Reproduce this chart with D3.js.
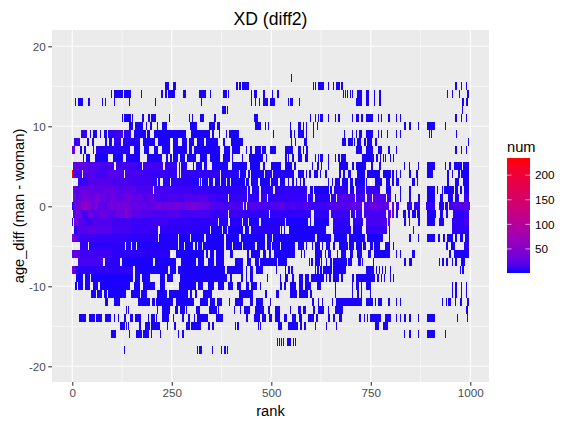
<!DOCTYPE html>
<html><head><meta charset="utf-8">
<script src="https://cdn.jsdelivr.net/npm/d3@7"></script>
<style>html,body{margin:0;background:#fff}svg{display:block;font-family:"Liberation Sans",Arial,sans-serif}</style>
</head><body><svg id="c" width="581" height="427"></svg>
<script>
const xTicks=[0,250,500,750,1000], xMinor=[125,375,625,875];
const yTicks=[-20,-10,0,10,20], yMinor=[-15,-5,5,15];
const legendTicks=[50,100,150,200];
const titleText="XD (diff2)", xLabel="rank", yLabel="age_diff (man - woman)", legendTitle="num";
const numDomain=[1,235];
// spans per age_diff: [rank start, rank end, num]
const p16=[[549,551]];
const p15=[[233,244],[253,260],[411,416],[418,424],[426,445],[604,607],[610,612],[617,632],[642,645],[655,657],[663,673],[675,679],[962,967],[977,979],[989,992]];
const p14=[[97,100],[105,128],[130,147],[172,175],[223,228],[233,237],[241,252],[254,258],[278,286],[318,337],[346,348],[379,388],[390,392],[449,451],[456,465],[480,485],[502,505],[515,520],[679,681],[684,686],[691,693],[698,700],[703,705],[715,728],[738,745],[758,760],[771,776],[941,944],[954,956],[972,974],[992,997]];
const p13=[[7,9],[14,26],[39,44],[75,78],[81,85],[105,107],[142,145],[208,210],[323,326],[449,451],[459,461],[469,471],[479,492],[497,509],[542,545],[547,555],[570,572],[713,728],[738,745],[758,760],[771,776],[979,984],[989,994]];
const p12=[[376,386],[389,391],[979,982]];
const p11=[[125,127],[130,147],[150,152],[175,180],[190,195],[198,210],[243,245],[293,296],[301,303],[321,331],[356,361],[456,466],[597,600],[610,612],[617,620],[622,630],[642,645],[660,662],[668,673],[703,705],[713,720],[725,730],[738,755],[768,771],[776,778],[793,798],[813,816],[823,826],[962,967],[977,979],[989,992]];
const p10=[[142,152],[157,178],[185,187],[195,200],[213,215],[225,238],[296,313],[343,358],[363,371],[459,474],[484,487],[492,494],[547,550],[567,575],[580,582],[587,590],[605,607],[615,617],[833,838],[846,851],[869,871],[891,911],[936,939]];
const p9=[[22,37,8],[45,47],[52,62],[70,72],[80,87],[90,110,6],[110,128,12],[130,147,6],[155,185],[188,195],[205,286,3],[298,346],[351,356],[368,371],[386,389],[394,419],[504,507],[547,552],[557,560],[567,582],[587,590],[605,607],[683,685],[703,705],[713,716],[720,728],[738,755],[768,771],[776,778],[791,793],[813,816],[823,826],[896,899],[901,904],[964,966]];
const p8=[[4,19,10],[37,42],[49,54],[82,87],[92,100],[105,122,6],[127,170,5],[178,208],[215,245],[253,265],[275,288],[293,305],[313,331],[336,366],[379,384],[399,429],[550,552],[560,562],[582,590],[678,688],[693,705],[708,710],[715,725],[733,738],[740,753],[760,765],[994,997]];
const p7=[[0,7,28],[19,24],[29,34],[52,54],[60,145,5],[155,170],[180,193],[205,215],[225,245],[253,287],[293,300],[305,371],[381,396],[401,421],[436,438],[446,451],[459,474],[477,487],[497,512],[534,555],[567,575],[580,582],[587,592],[713,728],[738,755],[768,778],[793,798],[813,816],[962,967],[977,979],[989,992]];
const p6=[[27,29],[34,44],[57,90],[103,128],[135,170],[187,225],[235,240],[245,250],[253,265],[270,283],[288,312],[321,338],[346,371],[379,396],[401,405],[426,430],[443,480],[487,489],[534,539],[542,544],[552,557],[567,577],[585,592],[610,612],[617,620],[622,630],[642,645],[660,662],[668,673],[675,688],[728,758],[763,768],[773,776],[781,783],[786,788],[798,800],[806,808]];
const p5=[[2,12,22],[12,40,26],[40,70,18],[70,105,14],[110,160,12],[160,175,7],[177,229,11],[232,262,7],[269,271,5],[273,287,5],[303,306],[311,326],[331,338],[351,391],[401,438],[446,472],[478,484],[499,524],[534,552],[557,562],[602,605],[615,620],[625,627],[642,645],[670,693],[703,708],[713,738],[750,756],[771,776],[833,836],[846,848],[869,871],[891,911],[936,939],[946,951],[959,979],[982,997]];
const p4=[[0,2,235],[2,25,12],[27,60,18],[60,90,11],[90,110,20],[110,130,16],[132,170,14],[170,200,10],[200,240,8],[240,262,7],[269,271,5],[273,371,7],[374,420,5],[422,436],[441,447],[450,482],[484,502,5],[505,557,4],[567,582],[587,590],[595,600],[607,617],[622,625],[635,640],[670,675],[680,685],[693,700],[715,735],[740,773],[781,801],[803,808],[813,816],[823,826],[846,851],[864,869],[891,906],[941,946],[954,956],[969,974],[977,997]];
const p3=[[15,40,8],[40,60,18],[60,100,19],[100,150,14],[150,200,11],[200,212,7],[216,220],[229,245,5],[248,300,6],[300,318,4],[321,323],[326,341],[343,353],[358,371],[374,386],[389,396],[399,434],[437,444],[449,467],[472,497],[499,518],[521,534],[542,544],[552,557],[562,565],[572,575],[580,585],[642,645],[652,655],[660,673],[678,693],[698,705],[710,735],[738,740],[761,778],[788,798],[803,808],[813,821],[853,861],[866,869],[941,946],[962,972],[982,997]];
const p2=[[2,6,28],[6,20,17],[20,50,27],[50,80,23],[80,110,27],[110,130,18],[130,160,21],[160,203,15],[205,240,12],[240,300,10],[300,345,8],[345,438,6],[441,446],[452,470,4],[475,505,5],[510,590,6],[597,605],[607,645],[648,652],[657,693,6],[698,708],[713,735,6],[738,773,8],[788,801],[823,826],[846,851],[891,911],[916,919],[929,931],[934,959],[962,969],[974,979],[984,997]];
const p1=[[3,9,38],[9,14,13],[14,25,28],[25,42,36],[42,60,30],[60,70,40],[70,85,30],[85,95,22],[95,110,31],[110,125,22],[125,140,28],[140,150,34],[150,165,22],[165,175,26],[175,190,18],[190,205,24],[205,220,15],[220,240,12],[240,262,16],[262,280,12],[280,300,18],[300,318,15],[318,340,19],[340,362,12],[362,390,8],[394,438,8],[441,470,6],[473,488,8],[491,505,6],[505,590,8],[593,606,5],[610,647,5],[650,662,6],[665,710,17],[713,735,10],[740,752,14],[755,765,22],[765,788,17],[791,801,9],[811,814],[823,826],[846,851],[869,874],[891,911],[924,931],[944,956],[962,972],[984,997,9]];
const p0=[[0,3,5],[3,8,22],[8,14,30],[14,23,36],[23,30,55],[30,36,62],[36,44,52],[44,50,40],[50,58,33],[58,65,44],[65,72,22],[72,80,27],[80,86,17],[86,95,31],[95,103,40],[103,112,30],[112,120,38],[120,130,33],[130,138,40],[138,149,30],[149,158,23],[158,168,30],[168,176,21],[176,185,26],[185,199,22],[199,210,27],[210,222,32],[222,233,27],[233,245,34],[245,258,28],[258,270,35],[270,282,30],[282,296,35],[296,306,40],[306,316,37],[316,330,30],[330,345,27],[345,352,18],[352,362,19],[362,372,13],[372,380,16],[380,392,10],[392,405,16],[405,430,14],[432,436,8],[439,462,19],[462,480,16],[480,500,13],[500,522,17],[522,535,22],[535,548,11],[548,562,16],[562,580,11],[580,598,17],[598,612,9],[612,640,10],[640,652,13],[652,670,19],[670,690,16],[690,705,22],[705,727,23],[734,748,17],[748,768,30],[768,785,22],[785,796,24],[804,808,30],[813,821,11],[841,853,6],[858,864,6],[864,874,6],[889,911,7],[921,934,5],[936,943,5],[946,965,13],[965,985,18],[985,999,22]];
const m1=[[3,8,17],[8,14,35],[14,25,28],[25,40,14],[40,50,30],[50,70,22],[70,90,30],[90,110,22],[110,132,31],[132,140,50],[140,150,33],[150,170,22],[170,200,20],[200,240,15],[240,270,18],[270,300,11],[300,345,13],[345,391,9],[394,440,9],[440,495,7],[497,600,7],[607,645,6],[650,698,10],[700,710,7],[713,727,10],[734,788,13],[793,801,19],[803,808,28],[813,818],[831,838],[844,848],[853,864],[866,874],[891,914],[924,931],[939,944],[957,985,6],[985,997,10]];
const m2=[[0,3,5],[5,15,38],[15,30,22],[30,50,11],[50,100,16],[100,150,11],[150,200,9],[200,240,11],[240,295,8],[295,365,6],[368,391,5],[396,426,5],[429,441,4],[444,470],[473,534,4],[537,591],[596,600],[607,645],[655,698,6],[705,730,7],[738,790,13],[794,798,22],[833,838],[846,848],[869,874],[891,911],[921,934],[955,985,7],[985,997,14]];
const m3=[[5,12,5],[12,40,19],[40,60,24],[60,100,20],[100,150,12],[150,215,9],[220,300,6],[300,345,5],[348,375],[379,388],[392,430],[434,445],[450,521,5],[524,527],[533,534],[545,637],[655,700,5],[706,728],[738,790,9],[795,797],[857,859],[954,997,6]];
const m4=[[0,6,38],[6,18,18],[18,60,10],[60,140,8],[140,215,6],[217,266,4],[268,295],[298,330],[335,380],[385,420],[425,484],[489,502],[504,610],[614,650],[657,690],[695,735],[740,780],[795,798],[846,851],[869,871],[891,911],[919,924],[932,936],[941,956],[962,966],[975,982],[986,997]];
const m5=[[19,39,8],[41,132,6],[135,148,4],[150,160],[162,265,4],[268,280],[283,304],[308,313],[316,326],[329,382],[385,400],[403,427],[430,460],[464,484],[488,500],[503,522],[525,560],[567,582],[587,590],[602,605],[610,622],[627,630],[637,647],[655,660],[670,693],[695,708],[713,728],[730,738],[748,756],[758,773],[786,798],[806,808],[939,944],[951,962],[984,997,6]];
const m6=[[0,19,24],[19,100,11],[100,185,6],[185,245,5],[260,330],[335,340],[345,355],[360,380],[395,405],[440,445],[450,472],[479,487],[494,499],[507,560],[575,577],[582,585],[610,627],[635,637],[642,650],[665,667],[675,688],[698,705],[715,728],[743,750],[758,798],[813,816],[823,826],[853,861],[946,951],[959,997]];
const m7=[[15,78,13],[82,120,6],[125,203],[207,260],[272,312],[316,330],[340,355],[360,380],[410,430],[440,450],[460,470],[472,515],[517,540],[595,597],[600,605],[610,622],[625,628],[637,640],[648,652],[655,689],[692,703],[718,725],[728,730],[756,758],[833,838],[846,853],[921,924],[929,934],[939,944],[954,956],[962,967],[977,987]];
const m8=[[0,7,34],[7,153,6],[158,240],[245,260],[265,383],[388,400],[402,430],[436,440],[447,455],[462,480],[512,515],[535,537],[542,547],[550,555],[610,612],[615,620],[622,627],[630,653],[655,688],[738,758],[763,765],[771,773],[779,781],[786,788],[798,800],[974,977],[979,984]];
const m9=[[9,28],[32,44],[48,153],[157,170],[174,195],[220,233],[237,254],[271,388],[396,400],[425,430],[436,440],[447,455],[489,492],[522,525],[534,542],[552,557],[570,580],[585,595],[600,632],[637,640],[645,650],[655,670],[675,680],[703,708],[713,760],[765,770],[776,778],[783,785],[798,800],[806,808]];
const m10=[[7,11],[14,28],[32,44],[53,65],[70,145],[155,170],[178,208],[220,233],[268,312],[316,329],[340,355],[365,380],[390,405],[415,425],[436,445],[450,465],[472,475],[522,527],[532,537],[547,562],[570,580],[585,600],[615,625],[660,662],[703,705],[713,720],[725,728],[738,750],[954,956],[962,967],[977,979],[989,992]];
const m11=[[47,59],[62,75],[80,86],[90,135],[148,170],[172,187],[213,237],[243,291],[296,300],[308,314],[329,350],[419,455],[484,488],[512,516],[517,520],[547,564],[570,592],[597,602],[660,662],[703,705],[715,720],[725,728],[748,750],[954,956],[962,967],[977,979],[989,992]];
const m12=[[82,89],[105,120],[165,195],[200,208],[210,254],[261,306],[321,342],[346,358],[363,376],[394,396],[409,430],[446,455],[461,478],[497,500],[602,607],[617,620],[627,630],[653,656],[663,728],[738,756],[761,763],[768,778],[793,798],[813,816],[823,826],[929,931],[939,941],[944,952],[962,964],[974,979],[992,997]];
const m13=[[135,137],[140,142],[213,215],[225,245],[258,265],[271,283],[286,288],[311,321],[343,363],[366,369],[406,409],[421,423],[431,446],[459,482],[492,497],[509,522],[547,550],[567,575],[580,587],[605,610],[617,632],[642,645],[660,680],[989,994]];
const m14=[[17,34],[42,57],[60,75],[82,97],[105,107],[115,117],[130,135],[145,153],[157,172],[190,192],[197,208],[210,212],[225,243],[253,256],[275,280],[291,296],[306,308],[313,341],[360,378],[436,441],[457,472],[476,487],[495,501],[510,522],[532,539],[552,562],[570,577],[592,607],[612,617],[642,647],[655,660],[670,678],[720,725],[733,736],[740,743],[748,776],[786,801],[813,816],[823,826],[833,838],[846,851],[869,871],[891,911],[967,969],[992,994]];
const m15=[[120,133],[135,137],[140,142],[168,172],[182,195],[197,220],[238,240],[255,260],[285,296],[298,323],[341,346],[351,356],[409,411],[414,419],[467,469],[472,474],[517,527],[542,567],[572,577],[582,587],[610,612],[637,640],[662,665],[760,770],[781,793]];
const m16=[[97,111],[142,145],[160,175],[178,193],[198,200],[220,223],[266,268],[276,280],[833,836],[846,851],[869,871],[891,911],[936,939]];
const m17=[[514,517],[519,522],[524,527],[530,532],[539,550],[555,557],[560,562]];
const m18=[[130,132],[313,316],[318,326],[351,353],[373,376],[381,386],[389,391]];
const rows=[[16,p16],[15,p15],[14,p14],[13,p13],[12,p12],[11,p11],[10,p10],[9,p9],[8,p8],[7,p7],[6,p6],[5,p5],[4,p4],[3,p3],[2,p2],[1,p1],[0,p0],[-1,m1],[-2,m2],[-3,m3],[-4,m4],[-5,m5],[-6,m6],[-7,m7],[-8,m8],[-9,m9],[-10,m10],[-11,m11],[-12,m12],[-13,m13],[-14,m14],[-15,m15],[-16,m16],[-17,m17],[-18,m18]];

const svg=d3.select("#c");
const panel={l:52,r:489,t:30,b:382};
const x=d3.scaleLinear().domain([0,1000]).range([72.3,470.3]);
const y=d3.scaleLinear().domain([0,10]).range([206.3,126.3]);
const color=d3.scaleLinear().domain(numDomain).range(["#0000ff","#ff0000"]).interpolate(d3.interpolateLab);

svg.append("rect").attr("x",panel.l).attr("y",panel.t).attr("width",panel.r-panel.l).attr("height",panel.b-panel.t).attr("fill","#ebebeb");
const grid=svg.append("g").attr("stroke","#fff").attr("fill","none");
xMinor.forEach(v=>grid.append("line").attr("x1",x(v)).attr("x2",x(v)).attr("y1",panel.t).attr("y2",panel.b).attr("stroke-width",0.55));
yMinor.forEach(v=>grid.append("line").attr("y1",y(v)).attr("y2",y(v)).attr("x1",panel.l).attr("x2",panel.r).attr("stroke-width",0.55));
xTicks.forEach(v=>grid.append("line").attr("x1",x(v)).attr("x2",x(v)).attr("y1",panel.t).attr("y2",panel.b).attr("stroke-width",1.07));
yTicks.forEach(v=>grid.append("line").attr("y1",y(v)).attr("y2",y(v)).attr("x1",panel.l).attr("x2",panel.r).attr("stroke-width",1.07));

const tiles=svg.append("g").attr("shape-rendering","crispEdges");
rows.forEach(([age,spans])=>{
  tiles.selectAll(null).data(spans).enter().append("rect")
    .attr("x",d=>Math.round(x(d[0])))
    .attr("width",d=>Math.max(1,Math.round(x(d[1]))-Math.round(x(d[0]))))
    .attr("y",Math.round(y(age+0.5)))
    .attr("height",Math.round(y(age-0.5))-Math.round(y(age+0.5)))
    .attr("fill",d=>color(d.length>2?d[2]:3));
});

const xAxis=svg.append("g").attr("transform",`translate(0,${panel.b})`).call(d3.axisBottom(x).tickValues(xTicks).tickFormat(d3.format("d")).tickSize(3.7).tickPadding(2.5));
const yAxis=svg.append("g").attr("transform",`translate(${panel.l},0)`).call(d3.axisLeft(y).tickValues(yTicks).tickFormat(d=>String(d)).tickSize(3.7).tickPadding(2.5));
[xAxis,yAxis].forEach(a=>{a.select(".domain").remove();a.selectAll("line").attr("stroke","#333").attr("stroke-width",1.07);
  a.selectAll("text").attr("fill","#4d4d4d").attr("font-size",11.7).attr("font-family","Liberation Sans");});

svg.append("text").attr("x",270.5).attr("y",25).attr("text-anchor","middle").attr("font-size",17.6).text(titleText);
svg.append("text").attr("x",270.5).attr("y",416).attr("text-anchor","middle").attr("font-size",14.67).text(xLabel);
svg.append("text").attr("transform","translate(24,206) rotate(-90)").attr("text-anchor","middle").attr("font-size",14.67).text(yLabel);

// legend
const barT=158,barB=273,barL=507,barR=530;
const lg=d3.scaleLinear().domain(numDomain).range([barB,barT]);
const defs=svg.append("defs").append("linearGradient").attr("id","g").attr("x1",0).attr("x2",0).attr("y1",1).attr("y2",0);
d3.range(0,21).forEach(i=>defs.append("stop").attr("offset",i/20).attr("stop-color",color(numDomain[0]+(numDomain[1]-numDomain[0])*i/20)));
svg.append("rect").attr("x",barL).attr("y",barT).attr("width",barR-barL).attr("height",barB-barT).attr("fill","url(#g)");
legendTicks.forEach(v=>{
  const p=lg(v);
  svg.append("line").attr("x1",barL).attr("x2",barL+4.6).attr("y1",p).attr("y2",p).attr("stroke","#fff").attr("stroke-width",0.6);
  svg.append("line").attr("x1",barR-4.6).attr("x2",barR).attr("y1",p).attr("y2",p).attr("stroke","#fff").attr("stroke-width",0.6);
  svg.append("text").attr("x",535).attr("y",p+4.2).attr("font-size",11.7).text(v);
});
svg.append("text").attr("x",507).attr("y",152).attr("font-size",14.67).text(legendTitle);
</script></body></html>
